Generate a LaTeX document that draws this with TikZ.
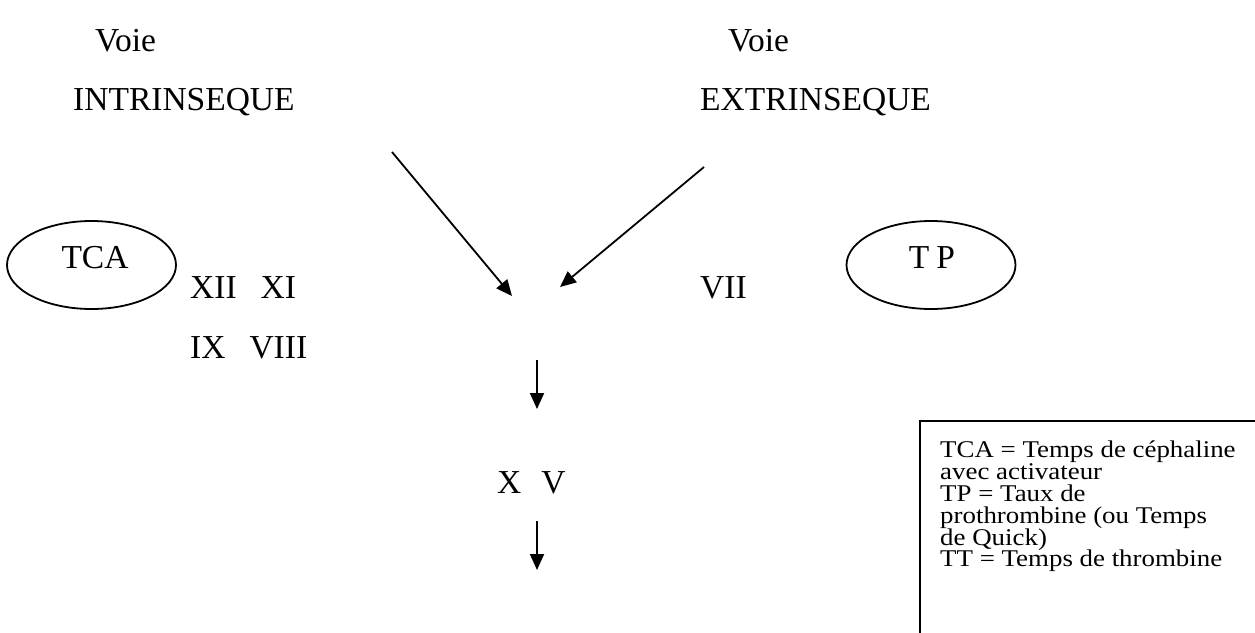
\documentclass[tikz,border=0pt]{standalone}
\usepackage{fontspec}
\setmainfont{Liberation Serif}
\newfontfamily\legendfont[FakeStretch=1.12]{Liberation Serif}
\usetikzlibrary{arrows.meta,shapes.geometric}
\begin{document}
\begin{tikzpicture}[x=1pt,y=-1pt,
  lbl/.style={font=\fontsize{33.5}{40}\selectfont, inner sep=0pt, anchor=base west},
  arr/.style={line width=1.8pt, -{Triangle[length=16pt,width=14pt]}},
  oval/.style={draw, ellipse, line width=1.8pt, minimum width=169pt, minimum height=88pt, inner sep=0pt},
  legendtext/.style={font=\legendfont\fontsize{24}{21.8}\selectfont, inner sep=0pt, anchor=north west, align=left}]
\useasboundingbox (0,0) rectangle (1255,632);
% headings
\node[lbl] (voieI) at (95,51) {Voie};
\node[lbl] (intr) at (73,110) {INTRINSEQUE};
\node[lbl] (voieE) at (728,51) {Voie};
\node[lbl] (extr) at (700,110) {EXTRINSEQUE};
% ovals
\node[oval] (tca) at (91.5,265) {};
\node[font=\fontsize{33.5}{40}\selectfont, inner sep=0pt] (tcal) at (95,258) {TCA};
\node[oval] (tp) at (931,265) {};
\node[font=\fontsize{33.5}{40}\selectfont, inner sep=0pt] (tpl) at (932,258) {T\hspace{7pt}P};
% factors
\node[lbl] (f1) at (190,298) {XII\hspace{24pt}XI};
\node[lbl] (f2) at (190,358) {IX\hspace{24pt}VIII};
\node[lbl] (f3) at (700,298) {VII};
\node[lbl] (f4) at (497,493) {X\hspace{20pt}V};
% arrows
\coordinate (a1s) at (392,152);
\coordinate (a1e) at (512,296);
\coordinate (a2s) at (704,167);
\coordinate (a2e) at (560,287);
\coordinate (a3s) at (537,360);
\coordinate (a3e) at (537,409);
\coordinate (a4s) at (537,521);
\coordinate (a4e) at (537,570);
\draw[arr] (a1s) -- (a1e);
\draw[arr] (a2s) -- (a2e);
\draw[arr] (a3s) -- (a3e);
\draw[arr] (a4s) -- (a4e);
% legend
\draw[line width=1.6pt] (1300,421) -| (920,700);
\node[legendtext] (legend) at (940,441) {TCA = Temps de céphaline\\avec activateur\\TP = Taux de\\prothrombine (ou Temps\\de Quick)\\TT = Temps de thrombine};
\end{tikzpicture}
\end{document}
